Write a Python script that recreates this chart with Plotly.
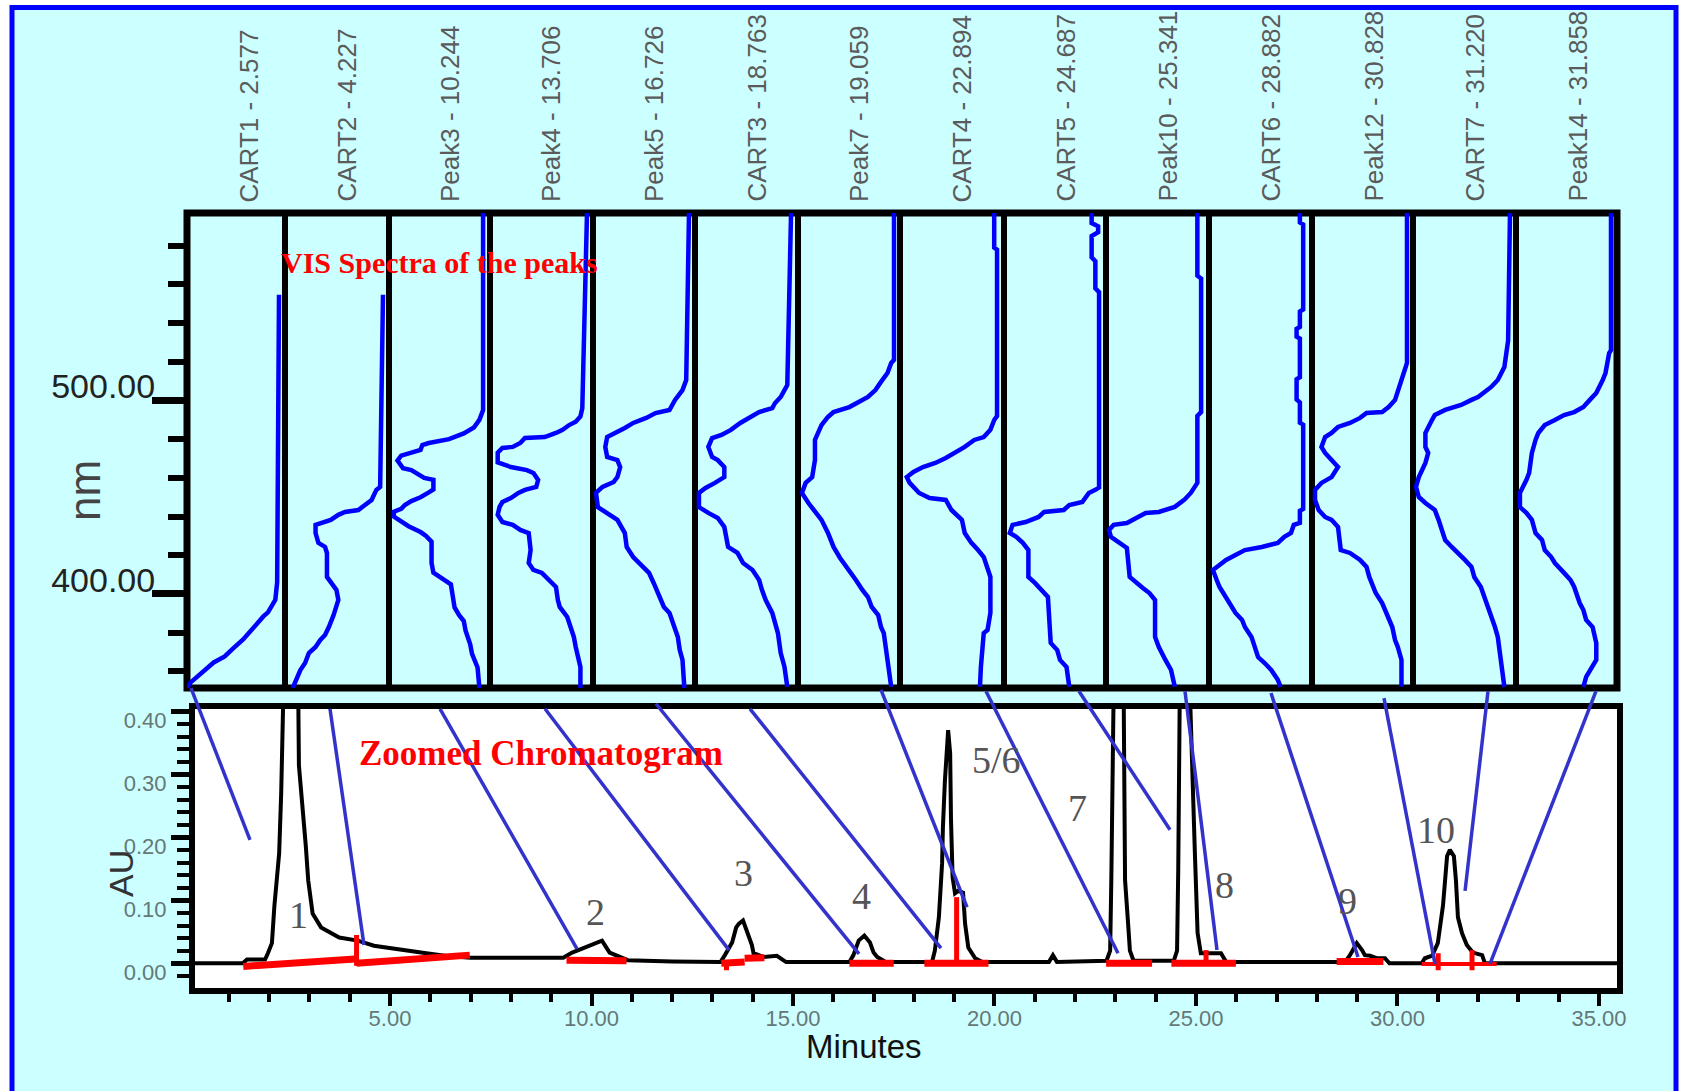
import plotly.graph_objects as go

# ======================= DATA =======================
spectrum_titles = ["CART1 - 2.577", "CART2 - 4.227", "Peak3 - 10.244", "Peak4 - 13.706",
                   "Peak5 - 16.726", "CART3 - 18.763", "Peak7 - 19.059", "CART4 - 22.894",
                   "CART5 - 24.687", "Peak10 - 25.341", "CART6 - 28.882", "Peak12 - 30.828",
                   "CART7 - 31.220", "Peak14 - 31.858"]

# Spectra: wavelength (nm) and relative absorbance (1 = column left edge, 0 = column baseline)
wl_1 = [554.6, 406, 397, 390.5, 388.4, 381.7, 376.5, 371.4, 367.7, 364.6, 361, 357.4, 354.3, 351.4]
ab_1 = [0.0, 0.02, 0.04, 0.12, 0.17, 0.29, 0.39, 0.51, 0.59, 0.71, 0.80, 0.90, 0.96, 1.0]

wl_2 = [554.6, 455.3, 453.8, 448.6, 446.0, 443.4, 442.4, 440.9, 438.3, 435.7, 431.5, 426.4, 424.3, 421.2,
        408.8, 405.7, 402.1, 396.9, 393.3, 389.1, 382.9, 378.8, 376.2, 372.6, 369.5, 364.3, 360.7, 355.6, 351.4]
ab_2 = [0.0, 0.03, 0.07, 0.12, 0.19, 0.26, 0.40, 0.47, 0.55, 0.71, 0.71, 0.68, 0.61, 0.59,
        0.59, 0.55, 0.49, 0.47, 0.49, 0.52, 0.57, 0.61, 0.66, 0.71, 0.78, 0.82, 0.87, 0.92, 0.95]

wl_3 = [596.9, 495, 490, 486, 483, 480, 478, 477, 474.5, 473, 471.5, 469, 465, 464, 462, 460, 459, 454,
        452.5, 450, 448, 446, 444, 442.5, 440, 437, 435, 432, 430, 427, 416, 411, 408, 405, 399, 393,
        389, 386, 381, 374, 369, 362, 351.4]
ab_3 = [0.01, 0.01, 0.05, 0.11, 0.22, 0.38, 0.60, 0.67, 0.69, 0.82, 0.90, 0.94, 0.88, 0.79, 0.72, 0.65, 0.55, 0.55,
        0.60, 0.69, 0.79, 0.86, 0.90, 0.98, 0.98, 0.88, 0.82, 0.69, 0.63, 0.57, 0.57, 0.55, 0.46, 0.36, 0.34, 0.32,
        0.27, 0.22, 0.20, 0.15, 0.13, 0.07, 0.05]

wl_4 = [596.9, 496, 491.7, 489, 487.3, 484.8, 483.2, 481.1, 480.6, 478, 476, 475.5, 473, 468, 465.6, 464,
        462.5, 458.9, 455.3, 453.8, 452.2, 449.6, 447.5, 445, 440.9, 437.2, 435.7, 433.1, 431.5, 422.7,
        416, 412.4, 410.9, 407.2, 403.6, 396.9, 393.3, 388.1, 382.9, 377.8, 372.6, 367.4, 362.3, 351.4]
ab_4 = [0.0, 0.05, 0.07, 0.12, 0.19, 0.26, 0.33, 0.45, 0.66, 0.71, 0.79, 0.90, 0.95, 0.95, 0.81, 0.64,
        0.57, 0.52, 0.54, 0.66, 0.73, 0.81, 0.90, 0.93, 0.95, 0.90, 0.79, 0.71, 0.62, 0.60,
        0.62, 0.57, 0.48, 0.40, 0.33, 0.31, 0.29, 0.21, 0.17, 0.14, 0.12, 0.10, 0.07, 0.07]

wl_5 = [596.9, 510.6, 505.4, 500.3, 495.1, 493.5, 491, 488.4, 485.8, 483.2, 481.1, 476, 470.8, 469.2,
        465.6, 460.4, 457.9, 455.3, 452.2, 444.9, 441.9, 438.3, 431.5, 424.3, 419.1, 413.9, 410.9,
        405.7, 400.5, 393.3, 390.2, 385, 377.8, 371.1, 365.9, 351.4]
ab_5 = [0.0, 0.03, 0.07, 0.15, 0.21, 0.36, 0.46, 0.60, 0.69, 0.81, 0.88, 0.90, 0.88, 0.77,
        0.74, 0.77, 0.81, 0.93, 1.0, 0.98, 0.88, 0.77, 0.69, 0.67, 0.60, 0.50, 0.43,
        0.38, 0.33, 0.27, 0.21, 0.17, 0.12, 0.10, 0.07, 0.05]

wl_6 = [596.9, 508, 505.4, 501.8, 498.7, 496.1, 494, 491.5, 488.4, 484.8, 482.2, 480.6, 476, 470.8,
        469.2, 465.6, 460.4, 457.4, 454.8, 452.2, 444.9, 441.9, 439.3, 434.6, 424.3, 421.2, 416,
        412.4, 407.2, 402.1, 396.9, 390.2, 385, 379.8, 369.5, 362.3, 352]
ab_6 = [0.01, 0.05, 0.08, 0.12, 0.18, 0.21, 0.35, 0.45, 0.55, 0.65, 0.75, 0.85, 0.89, 0.85,
        0.79, 0.72, 0.72, 0.82, 0.92, 0.99, 0.99, 0.89, 0.79, 0.72, 0.68, 0.58, 0.52,
        0.42, 0.35, 0.32, 0.28, 0.21, 0.18, 0.15, 0.12, 0.08, 0.05]

wl_7 = [596.9, 521, 519.4, 514.2, 509.6, 505.4, 501.8, 499.2, 496.6, 494, 491.5, 487.3, 479.6, 469.2,
        460.4, 457.4, 452.2, 447, 442.4, 438.3, 431.5, 424.3, 418.6, 412.4, 407.2, 402.1, 398.4,
        393.3, 389.1, 382.9, 379.8, 365.9, 351.9]
ab_7 = [0.0, 0.0, 0.03, 0.07, 0.14, 0.20, 0.28, 0.37, 0.48, 0.65, 0.71, 0.78, 0.85, 0.85,
        0.88, 0.95, 0.99, 0.92, 0.85, 0.78, 0.71, 0.65, 0.58, 0.48, 0.41, 0.34, 0.28,
        0.24, 0.17, 0.14, 0.11, 0.07, 0.03]

wl_8 = [596.9, 579, 578, 492, 489.9, 484.8, 481.1, 479.6, 476, 472.9, 470.3, 467.7, 465.6, 463.1,
        460.4, 457.4, 452.2, 449.6, 448.6, 443.4, 438.3, 431.5, 426.4, 422.7, 419.1, 408.8, 390.2,
        381.4, 379.8, 362.3, 352]
ab_8 = [0.04, 0.04, 0.01, 0.01, 0.04, 0.08, 0.15, 0.25, 0.35, 0.45, 0.55, 0.66, 0.79, 0.89,
        0.96, 0.93, 0.83, 0.72, 0.55, 0.49, 0.38, 0.35, 0.28, 0.21, 0.15, 0.08, 0.08,
        0.11, 0.15, 0.18, 0.19]

wl_9 = [596.9, 591.7, 590, 587, 585, 574, 572, 558, 556, 455, 453.8, 452.2, 447.5, 446, 443.4, 442.4,
        439.8, 437.2, 435.7, 431.5, 429.5, 426.4, 422.7, 408.8, 405.7, 402.1, 398.4, 374.7, 371,
        365.9, 362.3, 352]
ab_9 = [0.09, 0.09, 0.02, 0.02, 0.09, 0.09, 0.05, 0.05, 0.01, 0.01, 0.05, 0.12, 0.19, 0.33, 0.39, 0.60,
        0.66, 0.80, 0.94, 0.97, 0.90, 0.83, 0.77, 0.77, 0.70, 0.63, 0.56, 0.53, 0.46,
        0.43, 0.36, 0.33]

wl_10 = [596.9, 564.5, 563, 494, 492, 462.5, 457.4, 452.2, 448.6, 445, 442.4, 441.9, 439.3, 436.7,
         435.7, 433.1, 429.5, 426.4, 423.8, 408.8, 405.7, 403.1, 400.5, 396.9, 377.8, 372.6, 365.9,
         360.7, 352]
ab_10 = [0.06, 0.06, 0.02, 0.02, 0.06, 0.06, 0.06, 0.13, 0.20, 0.30, 0.47, 0.61, 0.71, 0.81,
         0.95, 1.0, 0.98, 0.88, 0.81, 0.78, 0.71, 0.64, 0.57, 0.51, 0.51, 0.47, 0.40,
         0.34, 0.30]

wl_11 = [596.9, 592, 591, 547, 546, 538, 537, 533, 532, 512, 511, 500.5, 499, 488.5, 487.5, 444, 443,
         436.7, 435.7, 431.5, 429.5, 426.4, 424.3, 422.7, 420.2, 417.6, 415, 412.4, 407.2, 403.6,
         400.5, 395.3, 390.2, 386.6, 382.9, 377.8, 372.6, 367.4, 364.3, 360.7, 355.6, 352]
ab_11 = [0.065, 0.065, 0.03, 0.03, 0.065, 0.065, 0.10, 0.10, 0.065, 0.065, 0.10, 0.10, 0.065, 0.065, 0.03,
         0.03, 0.065, 0.065, 0.13, 0.16, 0.23, 0.30, 0.47, 0.65, 0.75, 0.85, 0.92, 0.99, 0.95, 0.92,
         0.88, 0.82, 0.75, 0.68, 0.65, 0.58, 0.54, 0.51, 0.44, 0.37, 0.30, 0.27]

wl_12 = [596.9, 519.4, 510.6, 503.9, 500.3, 496.6, 494, 493.5, 491, 488.4, 486.3, 483.2, 481.1, 476,
         472.9, 469.2, 465.6, 460.4, 457.4, 453.8, 448.6, 443.4, 439.8, 438.3, 434.6, 422.7, 421.2,
         417.6, 414, 408.8, 400.5, 395.3, 390.2, 386.6, 382.9, 376.2, 372.6, 365.9, 352]
ab_12 = [0.0, 0.0, 0.06, 0.10, 0.13, 0.20, 0.27, 0.44, 0.51, 0.62, 0.75, 0.82, 0.89, 0.93,
         0.89, 0.82, 0.75, 0.82, 0.93, 1.0, 1.0, 0.96, 0.89, 0.82, 0.75, 0.72, 0.62,
         0.51, 0.44, 0.41, 0.34, 0.27, 0.23, 0.20, 0.16, 0.13, 0.10, 0.06, 0.06]

wl_13 = [596.9, 531, 517.3, 514.2, 510.6, 507, 504.4, 501.8, 500.3, 497.7, 495.1, 492.5, 489.9, 486.3,
         483.2, 476, 472.9, 467.7, 464.1, 460.4, 455.3, 450.1, 447, 443.4, 438.3, 433.1, 427.9, 424.3,
         421.2, 417.6, 414, 408.8, 403.6, 398.4, 393.3, 388.1, 382.9, 377.8, 364.3, 352]
ab_13 = [0.0, 0.02, 0.06, 0.09, 0.13, 0.20, 0.27, 0.34, 0.41, 0.52, 0.69, 0.80, 0.83, 0.87,
         0.90, 0.90, 0.87, 0.90, 0.94, 0.97, 1.0, 0.97, 0.90, 0.80, 0.76, 0.73, 0.69, 0.62,
         0.55, 0.48, 0.41, 0.38, 0.31, 0.27, 0.24, 0.20, 0.16, 0.13, 0.09, 0.06]

wl_14 = [596.9, 526, 524.5, 514.2, 510.6, 507, 503.9, 500.3, 496.6, 494, 492.5, 489.9, 487.3, 483.2,
         479.6, 472.9, 462.5, 458.9, 455.3, 452.2, 444.9, 441.9, 438.3, 431.5, 427.9, 422.7, 419.1,
         416, 410.9, 407.2, 403.6, 398.4, 395.3, 391.7, 386.6, 382.9, 374.7, 365.9, 362.3, 357.1, 352]
ab_14 = [0.0, 0.0, 0.02, 0.06, 0.09, 0.13, 0.16, 0.23, 0.30, 0.40, 0.51, 0.61, 0.72, 0.79,
         0.82, 0.86, 0.89, 0.92, 0.96, 0.99, 0.99, 0.92, 0.86, 0.82, 0.75, 0.72, 0.65,
         0.61, 0.51, 0.44, 0.40, 0.37, 0.34, 0.30, 0.27, 0.20, 0.16, 0.16, 0.20, 0.27, 0.30]

# Chromatogram (minutes, AU); peaks 1, 7 and 8 run off scale
chrom_time = [0.16, 1.35, 1.45, 1.90, 1.97, 2.07, 2.13, 2.25, 2.30, 2.35, 2.55, 2.72, 2.74, 2.91, 2.97,
              3.08, 3.29, 3.74, 4.20, 4.60, 5.00, 5.50, 5.90, 6.50, 7.00, 8.00, 9.30, 9.52, 9.80, 10.10,
              10.26, 10.45, 10.63, 10.90, 12.00, 13.20, 13.31, 13.49, 13.59, 13.66, 13.76, 13.88, 13.98,
              14.02, 14.28, 14.60, 14.83, 16.40, 16.50, 16.63, 16.77, 16.91, 17.00, 17.09, 17.30, 18.45,
              18.52, 18.62, 18.70, 18.72, 18.77, 18.85, 18.90, 18.92, 18.96, 19.02, 19.10, 19.22, 19.27,
              19.35, 19.43, 19.52, 19.70, 21.35, 21.45, 21.55, 22.78, 22.87, 22.90, 22.96, 23.08, 23.20,
              23.24, 23.31, 23.36, 23.45, 24.45, 24.53, 24.56, 24.60, 24.72, 24.84, 24.90, 24.97, 25.04,
              25.12, 25.25, 25.45, 25.62, 25.75, 28.70, 28.82, 28.99, 29.12, 29.19, 29.32, 29.50, 29.69,
              29.80, 30.60, 30.68, 30.86, 31.00, 31.13, 31.23, 31.30, 31.40, 31.45, 31.50, 31.60, 31.72,
              31.87, 32.10, 32.17, 35.45]
chrom_au = [0.0, 0.0, 0.006, 0.006, 0.016, 0.032, 0.09, 0.175, 0.27, 0.45, 1.0, 0.45, 0.314, 0.187, 0.132,
            0.079, 0.057, 0.041, 0.036, 0.028, 0.024, 0.019, 0.016, 0.011, 0.009, 0.009, 0.009, 0.017, 0.024, 0.032,
            0.036, 0.017, 0.012, 0.005, 0.003, 0.002, 0.013, 0.033, 0.057, 0.063, 0.068, 0.049, 0.029,
            0.016, 0.010, 0.012, 0.002, 0.002, 0.013, 0.036, 0.044, 0.033, 0.017, 0.010, 0.002, 0.002,
            0.020, 0.073, 0.159, 0.216, 0.29, 0.37, 0.333, 0.23, 0.137, 0.111, 0.115, 0.112, 0.063,
            0.025, 0.016, 0.008, 0.002, 0.002, 0.013, 0.002, 0.004, 0.020, 0.137, 0.45, 1.5, 0.45,
            0.132, 0.068, 0.020, 0.004, 0.004, 0.020, 0.15, 0.45, 1.5, 0.45, 0.30, 0.18, 0.048,
            0.016, 0.016, 0.016, 0.016, 0.002, 0.002, 0.013, 0.032, 0.021, 0.013, 0.012, 0.008, 0.008,
            0.0, 0.0, 0.008, 0.012, 0.032, 0.092, 0.17, 0.18, 0.17, 0.132, 0.073, 0.048, 0.029,
            0.017, 0.013, 0.0, 0.0]

# Integration baselines (red)
integ_t0 = [1.36, 4.17, 9.38, 13.22, 13.80, 16.40, 18.26, 22.77, 24.39, 28.49]
integ_a0 = [-0.005, 0.0, 0.005, 0.0, 0.008, 0.0, 0.0, 0.0, 0.0, 0.003]
integ_t1 = [4.13, 6.98, 10.87, 13.80, 14.29, 17.50, 19.85, 23.91, 25.99, 29.65]
integ_a1 = [0.007, 0.013, 0.004, 0.002, 0.009, 0.0, 0.0, 0.0, 0.0, 0.003]
integ_thin_t = [30.60, 32.46]
integ_thin_a = [-0.001, -0.001]
# Drop lines (red)
drop_t = [4.17, 13.35, 19.06, 25.25, 31.01, 31.85]
drop_a0 = [-0.004, -0.011, 0.0, 0.0, -0.011, -0.011]
drop_a1 = [0.045, 0.0, 0.105, 0.021, 0.016, 0.021]

# Peak numbers
peak_num_text = ["1", "2", "3", "4", "5/6", "7", "8", "9", "10"]
peak_num_t = [2.72, 10.09, 13.76, 16.71, 20.06, 22.05, 25.70, 28.77, 30.96]
peak_num_au = [0.077, 0.081, 0.143, 0.107, 0.323, 0.247, 0.124, 0.099, 0.212]

# Connector lines (chromatogram units: minutes, AU) from the spectra down to the peaks
link_t_top = [0.062, 3.511, 6.241, 8.846, 11.600, 13.933, 17.184, 19.789, 22.097, 24.727, 26.861, 29.665, 32.246, 34.926]
link_au_top = [0.437, 0.404, 0.404, 0.404, 0.412, 0.404, 0.434, 0.432, 0.432, 0.432, 0.429, 0.421, 0.432, 0.432]
link_t_end = [1.526, 4.355, 9.640, 13.412, 16.638, 18.672, 19.318, 23.065, 24.355, 25.521, 29.020, 30.931, 31.677, 32.295]
link_au_end = [0.196, 0.029, 0.023, 0.021, 0.015, 0.024, 0.089, 0.016, 0.212, 0.021, 0.010, -0.001, 0.115, -0.001]

# Ticks
spec_major_ticks = [400, 500]
spec_minor_ticks = [360, 380, 420, 440, 460, 480, 520, 540, 560, 580]
chrom_x_ticks = [5, 10, 15, 20, 25, 30, 35]
chrom_x_minor = [1, 2, 3, 4, 6, 7, 8, 9, 11, 12, 13, 14, 16, 17, 18, 19, 21, 22, 23, 24,
                 26, 27, 28, 29, 31, 32, 33, 34]
chrom_y_ticks = [0.0, 0.1, 0.2, 0.3, 0.4]
chrom_y_minor = [-0.02, 0.02, 0.04, 0.06, 0.08, 0.12, 0.14, 0.16, 0.18, 0.22, 0.24, 0.26, 0.28,
                 0.32, 0.34, 0.36, 0.38]

# ======================= LAYOUT GEOMETRY =======================
W, H = 1681, 1091
SANS = "Liberation Sans, Arial, sans-serif"
SERIF = "Liberation Serif, Times New Roman, serif"

COL_EDGES = [187, 285, 389, 490, 593, 695, 798, 900, 1004, 1106, 1209, 1312, 1413, 1516, 1617]
SPEC_TOP, SPEC_BOT = 213, 688
SPEC_RANGE = [351.4, 596.9]
CH_L, CH_R, CH_TOP, CH_BOT = 195, 1617, 709, 988
CH_XRANGE = [0.1613, 35.447]
CH_YRANGE = [-0.0392, 0.4037]


def px(x):
    return x / W


def py(y):
    return 1 - y / H


spectra = [(wl_1, ab_1), (wl_2, ab_2), (wl_3, ab_3), (wl_4, ab_4), (wl_5, ab_5), (wl_6, ab_6),
           (wl_7, ab_7), (wl_8, ab_8), (wl_9, ab_9), (wl_10, ab_10), (wl_11, ab_11), (wl_12, ab_12),
           (wl_13, ab_13), (wl_14, ab_14)]

fig = go.Figure()
layout = dict(width=W, height=H, margin=dict(l=0, r=0, t=0, b=0, pad=0, autoexpand=False), autosize=False,
              paper_bgcolor="white", plot_bgcolor="rgba(0,0,0,0)", showlegend=False)

# spectra columns
for i, (wl, ab) in enumerate(spectra):
    xa = "x" if i == 0 else f"x{i+1}"
    key = "xaxis" if i == 0 else f"xaxis{i+1}"
    e0, e1 = COL_EDGES[i], COL_EDGES[i + 1]
    left = e0 + (0 if i == 0 else 3)
    base = e1 - 6
    s = base - left
    layout[key] = dict(domain=[px(e0), px(e1)], range=[1 + (left - e0) / s, -(e1 - base) / s],
                       visible=False, anchor="y", fixedrange=True)
    fig.add_trace(go.Scatter(x=ab, y=wl, mode="lines", line=dict(color="#0000FF", width=4.5),
                             xaxis=xa, yaxis="y", hoverinfo="skip"))

layout["yaxis"] = dict(domain=[py(SPEC_BOT), py(SPEC_TOP)], range=SPEC_RANGE, anchor="x",
                       tickmode="array", tickvals=spec_major_ticks, tickformat=".2f",
                       ticks="outside", ticklen=34, tickwidth=7, tickcolor="black",
                       showline=False, showgrid=False, zeroline=False, automargin=False,
                       tickfont=dict(family=SANS, size=34, color="#222222"),
                       ticklabelshift=-14, ticklabelstandoff=-10,
                       minor=dict(tickmode="array", tickvals=spec_minor_ticks, ticks="outside",
                                  ticklen=18, tickwidth=6, tickcolor="black", showgrid=False))

# chromatogram
layout["xaxis15"] = dict(domain=[px(CH_L), px(CH_R)], range=CH_XRANGE, anchor="y2",
                         tickmode="array", tickvals=chrom_x_ticks, tickformat=".2f",
                         ticks="outside", ticklen=12, tickwidth=4, tickcolor="black",
                         showline=True, linewidth=6, linecolor="black", mirror=True,
                         showgrid=False, zeroline=False, automargin=False,
                         tickfont=dict(family=SANS, size=22, color="#667777"),
                         ticklabelstandoff=-6,
                         minor=dict(tickmode="array", tickvals=chrom_x_minor, ticks="outside",
                                    ticklen=8, tickwidth=4, tickcolor="black", showgrid=False))
layout["yaxis2"] = dict(domain=[py(CH_BOT), py(CH_TOP)], range=CH_YRANGE, anchor="x15",
                        tickmode="array", tickvals=chrom_y_ticks, tickformat=".2f",
                        ticks="outside", ticklen=18, tickwidth=5, tickcolor="black",
                        showline=True, linewidth=6, linecolor="black", mirror=True,
                        showgrid=False, zeroline=False, automargin=False,
                        tickfont=dict(family=SANS, size=22, color="#667777"),
                        ticklabelshift=9,
                        minor=dict(tickmode="array", tickvals=chrom_y_minor, ticks="outside",
                                   ticklen=12, tickwidth=4, tickcolor="black", showgrid=False))

fig.add_trace(go.Scatter(x=chrom_time, y=chrom_au, mode="lines", line=dict(color="black", width=4),
                         xaxis="x15", yaxis="y2", hoverinfo="skip"))

ix, iy = [], []
for a, b, c, d in zip(integ_t0, integ_a0, integ_t1, integ_a1):
    ix += [a, c, None]
    iy += [b, d, None]
fig.add_trace(go.Scatter(x=ix, y=iy, mode="lines", line=dict(color="#FF0000", width=7),
                         xaxis="x15", yaxis="y2", hoverinfo="skip"))
fig.add_trace(go.Scatter(x=integ_thin_t, y=integ_thin_a, mode="lines", line=dict(color="#FF0000", width=4),
                         xaxis="x15", yaxis="y2", hoverinfo="skip"))
dx, dy = [], []
for t, a, b in zip(drop_t, drop_a0, drop_a1):
    dx += [t, t, None]
    dy += [a, b, None]
fig.add_trace(go.Scatter(x=dx, y=dy, mode="lines", line=dict(color="#FF0000", width=5),
                         xaxis="x15", yaxis="y2", hoverinfo="skip"))

# overlay axes with the same scale as the chromatogram, spanning the whole figure
cx0, cx1 = px(CH_L), px(CH_R)
sx = (CH_XRANGE[1] - CH_XRANGE[0]) / (cx1 - cx0)
cy0, cy1 = py(CH_BOT), py(CH_TOP)
sy = (CH_YRANGE[1] - CH_YRANGE[0]) / (cy1 - cy0)
layout["xaxis16"] = dict(domain=[0, 1], range=[CH_XRANGE[0] - cx0 * sx, CH_XRANGE[1] + (1 - cx1) * sx],
                         visible=False, anchor="y3", fixedrange=True)
layout["yaxis3"] = dict(domain=[0, 1], range=[CH_YRANGE[0] - cy0 * sy, CH_YRANGE[1] + (1 - cy1) * sy],
                        visible=False, anchor="x16", fixedrange=True)
lx, ly = [], []
for a, b, c, d in zip(link_t_top, link_au_top, link_t_end, link_au_end):
    lx += [a, c, None]
    ly += [b, d, None]
fig.add_trace(go.Scatter(x=lx, y=ly, mode="lines", line=dict(color="#3333CC", width=3.5),
                         xaxis="x16", yaxis="y3", hoverinfo="skip"))

# shapes
shapes = [
    dict(type="rect", xref="paper", yref="paper", x0=px(12), x1=px(1676), y0=-0.05, y1=py(7.5),
         fillcolor="#CCFFFF", line=dict(color="#0000FF", width=5), layer="below"),
    dict(type="rect", xref="paper", yref="paper", x0=px(CH_L), x1=px(CH_R), y0=py(CH_BOT), y1=py(CH_TOP),
         fillcolor="white", line=dict(width=0), layer="below"),
    dict(type="rect", xref="paper", yref="paper", x0=px(COL_EDGES[0]), x1=px(COL_EDGES[-1]),
         y0=py(SPEC_BOT), y1=py(SPEC_TOP), line=dict(color="black", width=7), layer="below"),
]
for e in COL_EDGES[1:-1]:
    shapes.append(dict(type="line", xref="paper", yref="paper", x0=px(e), x1=px(e),
                       y0=py(SPEC_BOT), y1=py(SPEC_TOP), line=dict(color="black", width=6), layer="below"))
layout["shapes"] = shapes

# annotations
ann = []
for i, title in enumerate(spectrum_titles):
    ann.append(dict(text=title, xref="paper", yref="paper", x=px(COL_EDGES[i] + 61), y=py(204),
                    xanchor="center", yanchor="bottom", textangle=-90, showarrow=False,
                    font=dict(family=SANS, size=26, color="#5b5b5b")))
for txt, t, a in zip(peak_num_text, peak_num_t, peak_num_au):
    ann.append(dict(text=txt, xref="x15", yref="y2", x=t, y=a, xanchor="center", yanchor="middle",
                    showarrow=False, font=dict(family=SERIF, size=38, color="#555555")))
ann += [
    dict(text="<b>VIS Spectra of the peaks</b>", xref="paper", yref="paper", x=px(279), y=py(262),
         xanchor="left", yanchor="middle", showarrow=False, font=dict(family=SERIF, size=30, color="#FF0000")),
    dict(text="<b>Zoomed Chromatogram</b>", xref="paper", yref="paper", x=px(357), y=py(753),
         xanchor="left", yanchor="middle", showarrow=False, font=dict(family=SERIF, size=35, color="#FF0000")),
    dict(text="nm", xref="paper", yref="paper", x=px(84), y=py(491), textangle=-90,
         xanchor="center", yanchor="middle", showarrow=False, font=dict(family=SANS, size=44, color="#444444")),
    dict(text="AU", xref="paper", yref="paper", x=px(121), y=py(874), textangle=-90,
         xanchor="center", yanchor="middle", showarrow=False, font=dict(family=SANS, size=34, color="#333333")),
    dict(text="Minutes", xref="paper", yref="paper", x=px(864), y=py(1046),
         xanchor="center", yanchor="middle", showarrow=False, font=dict(family=SANS, size=33, color="#111111")),
]
layout["annotations"] = ann

fig.update_layout(**layout)
fig.write_html("out.html", config={"displayModeBar": False},
               post_script="document.body.style.margin='0px';")
